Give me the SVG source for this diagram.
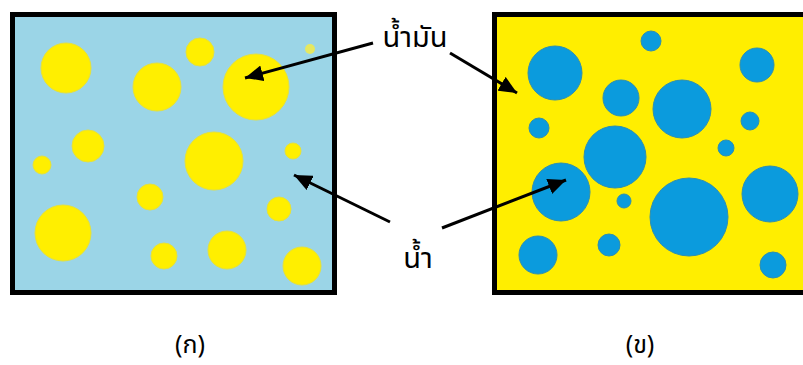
<svg xmlns="http://www.w3.org/2000/svg" width="803" height="365" viewBox="0 0 803 365">
<style>
.y{fill:#FFEF00;stroke:#E6E23A;stroke-width:1}
.b{fill:#0B9BDD;stroke:#2F8FAF;stroke-width:1}
.lbl{font-family:"Noto Sans Thai","Noto Sans","DejaVu Sans",sans-serif;fill:#000}
.ar{stroke:#000;stroke-width:3;fill:none;marker-end:url(#ah)}
</style>
<defs>
<marker id="ah" markerUnits="userSpaceOnUse" markerWidth="20" markerHeight="16" refX="18" refY="8" orient="auto">
<path d="M0,0 L18,8 L0,16 Z" fill="#000"/>
</marker>
</defs>
<rect width="803" height="365" fill="#fff"/>
<g id="panel-a">
<rect x="12.5" y="14.5" width="322" height="278" fill="#9BD5E7" stroke="#000" stroke-width="5"/>
<circle class="y" cx="66" cy="68" r="25"/>
<circle class="y" cx="157" cy="87" r="24"/>
<circle class="y" cx="200" cy="52" r="14"/>
<circle class="y" cx="256" cy="87" r="33"/>
<circle cx="310" cy="49" r="5" fill="#E6E860"/>
<circle class="y" cx="88" cy="146" r="16"/>
<circle class="y" cx="42" cy="165" r="9"/>
<circle class="y" cx="214" cy="161" r="29"/>
<circle class="y" cx="293" cy="151" r="8"/>
<circle class="y" cx="150" cy="197" r="13"/>
<circle class="y" cx="279" cy="209" r="12"/>
<circle class="y" cx="63" cy="233" r="28"/>
<circle class="y" cx="164" cy="256" r="13"/>
<circle class="y" cx="227" cy="250" r="19"/>
<circle class="y" cx="302" cy="266" r="19"/>
</g>
<g id="panel-b">
<path d="M494.5,295 V14.5 H803" fill="none" stroke="#000" stroke-width="5"/>
<rect x="497" y="17" width="306" height="275" fill="#FFEE00"/>
<path d="M494.5,292.5 H803" stroke="#000" stroke-width="5"/>
<circle class="b" cx="555" cy="73" r="27"/>
<circle class="b" cx="651" cy="41" r="10"/>
<circle class="b" cx="757" cy="65" r="17"/>
<circle class="b" cx="621" cy="98" r="18"/>
<circle class="b" cx="682" cy="109" r="29"/>
<circle class="b" cx="539" cy="128" r="10"/>
<circle class="b" cx="750" cy="121" r="9"/>
<circle class="b" cx="615" cy="157" r="31"/>
<circle class="b" cx="726" cy="148" r="8"/>
<circle class="b" cx="561" cy="192" r="29"/>
<circle class="b" cx="624" cy="201" r="7"/>
<circle class="b" cx="689" cy="217" r="39"/>
<circle class="b" cx="770" cy="194" r="28"/>
<circle class="b" cx="538" cy="255" r="19"/>
<circle class="b" cx="609" cy="245" r="11"/>
<circle class="b" cx="773" cy="265" r="13"/>
</g>
<g id="connectors">
<line class="ar" x1="373" y1="43" x2="245" y2="78"/>
<line class="ar" x1="390" y1="222" x2="294" y2="175"/>
<line class="ar" x1="450" y1="53" x2="517" y2="93"/>
<line class="ar" x1="442" y1="228" x2="566" y2="180"/>
</g>
<g id="label-oil"><text class="lbl" x="415" y="47" font-size="29" text-anchor="middle">น้ำมัน</text></g>
<g id="label-water"><text class="lbl" x="418" y="268" font-size="29" text-anchor="middle">น้ำ</text></g>
<g id="caption-a"><text class="lbl" x="190" y="353" font-size="25" text-anchor="middle">(ก)</text></g>
<g id="caption-b"><text class="lbl" x="640" y="353" font-size="25" text-anchor="middle">(ข)</text></g>
</svg>
